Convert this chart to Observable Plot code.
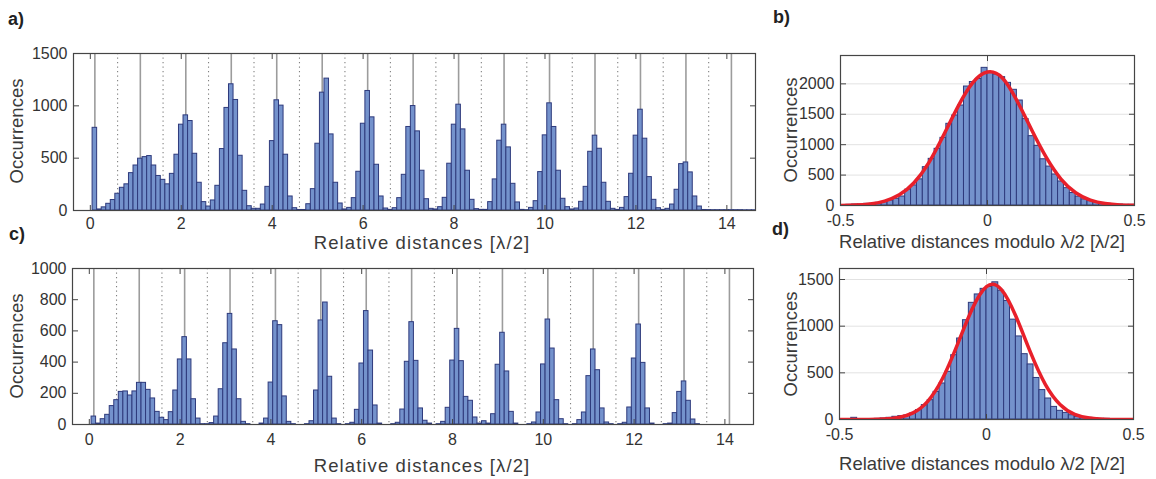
<!DOCTYPE html>
<html><head><meta charset="utf-8">
<script src="https://cdn.jsdelivr.net/npm/d3@7"></script>
<script src="https://cdn.jsdelivr.net/npm/@observablehq/plot@0.6"></script>
<style>
body{margin:0;background:#fff;}
#wrap{position:relative;width:1156px;height:479px;overflow:hidden;font-family:"Liberation Sans",Arial,Helvetica,sans-serif;color:#333;background:#fff;}
.t{position:absolute;white-space:nowrap;font-size:18.5px;color:#3a3a3a;line-height:1;}
.t.wide{letter-spacing:1.1px;}
.lt{position:absolute;font-weight:bold;font-size:18px;color:#222;line-height:1;}
</style></head><body><div id="wrap"></div>
<script>
// ---- Panel a: histogram of relative distances (bin k centred at k*0.1) ----
const countsA = [790,10,30,64,100,160,217,250,357,430,
495,510,520,430,330,293,250,350,533,820,
909,855,542,265,80,38,96,236,587,980,
1206,1056,523,188,41,16,16,57,226,663,
1053,1002,533,134,22,5,5,60,204,638,
1126,1260,727,265,67,10,25,118,370,829,
1142,890,437,134,19,6,22,118,341,798,
998,756,380,108,16,10,32,121,447,820,
1011,775,380,102,13,6,6,80,297,667,
820,603,255,77,6,3,25,89,367,718,
1024,798,380,112,32,10,19,83,226,561,
715,590,265,83,16,6,25,128,351,715,
963,686,319,102,22,6,16,57,198,443,
459,364,134,38,5,4,3,3,3,3,
3,3,3,2,2,2,2,0,0,0];
// ---- Panel c ----
const countsC = [51,6,34,62,118,156,209,212,186,212,
267,267,222,167,81,43,28,79,218,417,
560,417,162,38,2,2,9,51,226,521,
709,481,162,17,2,0,0,6,38,269,
662,637,180,17,2,0,0,2,21,218,
667,782,306,38,2,0,2,11,94,391,
727,474,122,6,0,0,2,11,96,402,
656,408,103,24,6,0,2,17,107,410,
613,406,177,152,45,6,21,6,66,383,
588,340,81,6,0,0,2,13,77,385,
673,487,156,34,2,0,2,28,77,310,
481,348,103,13,2,0,2,11,109,423,
641,395,103,6,0,0,2,6,73,209,
276,152,32,2,0,0,0,0,0,0,
0,0,0,0,0,0,0,0,0,0];
const binWidthAC = 0.1;
// ---- Panels b and d: distances modulo lambda/2, bins of 0.02 from -0.5 ----
const countsB = [5,11,16,16,27,27,44,55,82,110,
148,260,330,430,630,767,932,1112,1343,1480,
1644,1956,2030,2080,2263,2192,2154,2110,2016,1902,
1726,1420,1140,980,760,640,510,395,285,205,
145,100,72,55,38,27,22,16,11,11];
const countsD = [3,4,18,4,4,5,7,11,18,29,
36,43,64,100,154,207,296,386,511,689,
868,1064,1250,1340,1400,1420,1470,1380,1270,1070,
890,700,590,445,315,225,135,93,71,46,
29,25,18,11,7,7,4,4,3,3];
const binStartBD = -0.5, binWidthBD = 0.02;
// fitted curves (red)
const fitX = [-0.5,-0.45,-0.4,-0.35,-0.3,-0.25,-0.2,-0.15,-0.1,-0.05,0,0.05,0.1,0.15,0.2,0.25,0.3,0.35,0.4,0.45,0.5];
const fitYB = [2,8,26,73,175,375,700,1150,1630,2020,2195,2100,1725,1245,790,435,210,88,32,10,3];
const fitYD = [0,0,1,5,21,71,195,436,794,1176,1425,1395,1106,716,377,162,56,16,4,1,0];
// ticks and guide lines
const xTicksAC = [0,2,4,6,8,10,12,14];
const yTicksA = [0,500,1000,1500];
const yTicksC = [0,200,400,600,800,1000];
const xTicksBD = [-0.5,0,0.5];
const yTicksB = [0,500,1000,1500,2000];
const yTicksD = [0,500,1000,1500];
const solidLines = [0.1,1.1,2.1,3.1,4.1,5.1,6.1,7.1,8.1,9.1,10.1,11.1,12.1,13.1,14.1];
const dottedLines = [0.6,1.6,2.6,3.6,4.6,5.6,6.6,7.6,8.6,9.6,10.6,11.6,12.6,13.6];

const FONT = '"Liberation Sans", Arial, Helvetica, sans-serif';
const wrap = document.getElementById("wrap");
const barStyle = {fill: "#7492cc", stroke: "#2e3a7c", strokeWidth: 1};
const axisCol = "#454545";
const fmtNum = d => String(d);

const binsAC = arr => arr.map((v, i) => ({x1: (i + 1) * binWidthAC - binWidthAC / 2, x2: (i + 1) * binWidthAC + binWidthAC / 2, v}));
const binsBD = arr => arr.map((v, i) => ({x1: binStartBD + i * binWidthBD, x2: binStartBD + (i + 1) * binWidthBD, v}));
const fitData = ys => fitX.map((x, i) => ({x, y: ys[i]}));

function frameMarks(xt, yt, xpad) {
  return [
    Plot.axisX(xt, {anchor: "bottom", tickSize: 0, tickPadding: xpad, label: null, tickFormat: fmtNum, fill: "#333"}),
    Plot.axisY(yt, {anchor: "left", tickSize: 0, tickPadding: 6, label: null, tickFormat: fmtNum, fill: "#333"}),
    Plot.axisX(xt, {anchor: "bottom", tickSize: 5, dy: -5, fill: "none", label: null, stroke: axisCol}),
    Plot.axisX(xt, {anchor: "top", tickSize: 5, dy: 5, fill: "none", label: null, stroke: axisCol}),
    Plot.axisY(yt, {anchor: "left", tickSize: 6, dx: 6, fill: "none", label: null, stroke: axisCol}),
    Plot.axisY(yt, {anchor: "right", tickSize: 6, dx: -6, fill: "none", label: null, stroke: axisCol}),
    Plot.frame({stroke: axisCol, strokeWidth: 1.2})
  ];
}

function panel(o) {
  const svg = Plot.plot({
    width: o.w, height: o.h,
    marginLeft: o.ml, marginRight: o.mr, marginTop: o.mt, marginBottom: o.mb,
    style: {fontSize: "16px", fontFamily: FONT, background: "transparent", overflow: "visible", color: "#333"},
    x: {domain: o.xd, axis: null},
    y: {domain: o.yd, axis: null},
    marks: [
      ...o.back,
      Plot.rect(o.bins, {x1: "x1", x2: "x2", y1: 0, y2: "v", ...barStyle, clip: true}),
      ...(o.front || []),
      ...frameMarks(o.xt, o.yt, o.xpad)
    ]
  });
  svg.style.position = "absolute";
  svg.style.left = o.left + "px";
  svg.style.top = o.top + "px";
  wrap.appendChild(svg);
}

const guidesAC = [
  Plot.ruleX(dottedLines, {stroke: "#808080", strokeWidth: 1.1, strokeDasharray: "1.2,3.3"}),
  Plot.ruleX(solidLines, {stroke: "#9c9c9c", strokeWidth: 1.6})
];
const gridBD = yt => [
  Plot.ruleY(yt, {stroke: "#e2e2e2", strokeWidth: 1}),
  Plot.ruleX(xTicksBD, {stroke: "#e2e2e2", strokeWidth: 1})
];

panel({left: 0, top: 0, w: 770, h: 250, ml: 73, mr: 15, mt: 53, mb: 40, xpad: 7,
  xd: [-0.37, 14.63], yd: [0, 1500], bins: binsAC(countsA), xt: xTicksAC, yt: yTicksA, back: guidesAC});
panel({left: 0, top: 250, w: 770, h: 229, ml: 72, mr: 17, mt: 18, mb: 55, xpad: 9,
  xd: [-0.37, 14.63], yd: [0, 1000], bins: binsAC(countsC), xt: xTicksAC, yt: yTicksC, back: guidesAC});
panel({left: 770, top: 0, w: 386, h: 250, ml: 70, mr: 22, mt: 55, mb: 45, xpad: 9,
  xd: [-0.5, 0.5], yd: [0, 2466], bins: binsBD(countsB), xt: xTicksBD, yt: yTicksB, back: gridBD(yTicksB),
  front: [Plot.line(fitData(fitYB), {x: "x", y: "y", stroke: "#e8202a", strokeWidth: 3.5, curve: "natural", clip: true})]});
panel({left: 770, top: 250, w: 386, h: 229, ml: 69, mr: 23, mt: 18, mb: 60, xpad: 9,
  xd: [-0.5, 0.5], yd: [0, 1618], bins: binsBD(countsD), xt: xTicksBD, yt: yTicksD, back: gridBD(yTicksD),
  front: [Plot.line(fitData(fitYD), {x: "x", y: "y", stroke: "#e8202a", strokeWidth: 3.5, curve: "natural", clip: true})]});

// texts
function addText(cls, txt, x, y, rot) {
  const d = document.createElement("div");
  d.className = cls;
  d.textContent = txt;
  d.style.left = x + "px";
  d.style.top = y + "px";
  d.style.transform = "translate(-50%,-50%)" + (rot ? " rotate(-90deg)" : "");
  wrap.appendChild(d);
}
function addLetter(txt, x, y) {
  const d = document.createElement("div");
  d.className = "lt";
  d.textContent = txt;
  d.style.left = x + "px";
  d.style.top = y + "px";
  wrap.appendChild(d);
}
addText("t wide", "Relative distances [λ/2]", 422, 243);
addText("t", "Occurrences", 17, 131, true);
addText("t wide", "Relative distances [λ/2]", 422, 466);
addText("t", "Occurrences", 17, 346, true);
addText("t", "Relative distances modulo λ/2 [λ/2]", 982, 242);
addText("t", "Occurrences", 791, 130, true);
addText("t", "Relative distances modulo λ/2 [λ/2]", 982, 464);
addText("t", "Occurrences", 791, 344, true);
addLetter("a)", 8, 10);
addLetter("b)", 773, 8);
addLetter("c)", 9, 225);
addLetter("d)", 772, 220);
</script></body></html>
